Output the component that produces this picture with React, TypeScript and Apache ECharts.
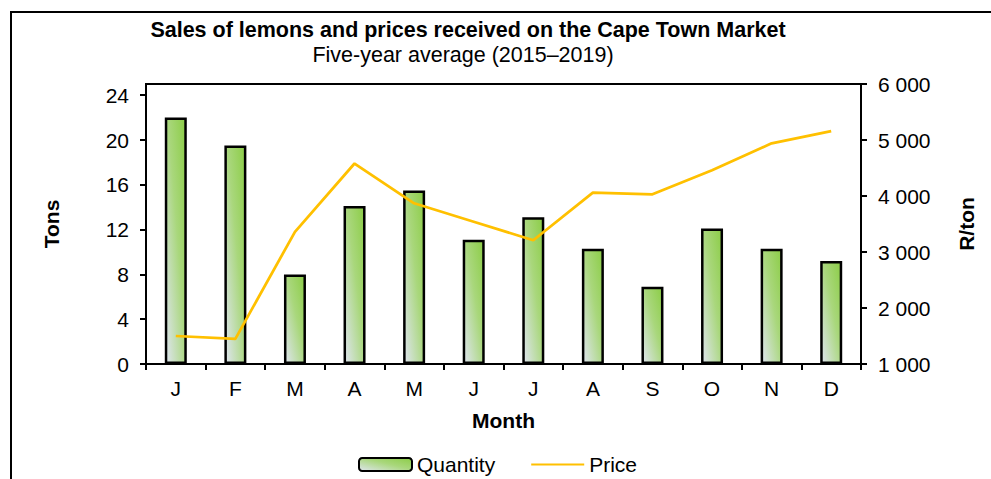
import React, { useEffect, useRef } from "react";
import * as echarts from "echarts";

const months = ["J", "F", "M", "A", "M", "J", "J", "A", "S", "O", "N", "D"];
const quantity = [22, 19.5, 8, 14.1, 15.5, 11.1, 13.1, 10.3, 6.9, 12.1, 10.3, 9.2];
const price = [1500, 1450, 3360, 4580, 3870, 3540, 3210, 4060, 4030, 4460, 4940, 5160];
const tonTicks = [0, 4, 8, 12, 16, 20, 24];

const titleText = "Sales of lemons and prices received on the Cape Town Market";
const subtitleText = "Five-year average (2015\u20132019)";

const FONT = "'Liberation Sans', Arial, sans-serif";
const FS = 21;

export default function App() {
  const ref = useRef<HTMLDivElement>(null);
  useEffect(() => {
    if (!ref.current) return;
    const chart = echarts.init(ref.current, undefined, { renderer: "svg" });
    const barFill = {
      type: "linear",
      x: 0,
      y: 1,
      x2: 1,
      y2: 0,
      colorStops: [
        { offset: 0, color: "#dfe5ef" },
        { offset: 0.55, color: "#a9d77c" },
        { offset: 1, color: "#8ccd47" },
      ],
    };
    const fmt = (v: number) => String(v).replace(/\B(?=(\d{3})+(?!\d))/g, " ");
    chart.setOption({
      animation: false,
      textStyle: { fontFamily: FONT, color: "#000" },
      graphic: [
        {
          type: "rect",
          shape: { x: 11, y: 12, width: 1100, height: 600 },
          style: { fill: "none", stroke: "#000", lineWidth: 2 },
          silent: true,
        },
        {
          type: "text",
          x: 468,
          y: 30,
          style: {
            text: titleText,
            font: `bold 21.5px ${FONT}`,
            fill: "#000",
            textAlign: "center",
            textVerticalAlign: "middle",
          },
        },
        {
          type: "text",
          x: 463,
          y: 55,
          style: {
            text: subtitleText,
            font: `21.5px ${FONT}`,
            fill: "#000",
            textAlign: "center",
            textVerticalAlign: "middle",
          },
        },
      ],
      grid: {
        left: 146,
        right: 130,
        top: 84,
        bottom: 115,
        show: true,
        borderColor: "#000",
        borderWidth: 2,
        containLabel: false,
      },
      legend: {
        left: 358,
        top: 454,
        padding: 0,
        itemWidth: 53,
        itemHeight: 13,
        itemGap: 35,
        textStyle: { fontSize: FS, color: "#000", fontFamily: FONT },
        data: [
          { name: "Quantity" },
          { name: "Price", itemStyle: { opacity: 0 } },
        ],
      },
      xAxis: {
        type: "category",
        data: months,
        name: "Month",
        nameLocation: "middle",
        nameGap: 46,
        nameTextStyle: { fontSize: FS, fontWeight: "bold", color: "#000" },
        axisLine: { lineStyle: { color: "#000", width: 2 } },
        axisTick: { show: true, length: 6, lineStyle: { color: "#000", width: 2 } },
        axisLabel: { fontSize: FS, color: "#000", margin: 14 },
      },
      yAxis: [
        {
          type: "value",
          min: 0,
          max: 25,
          interval: 4,
          name: "Tons",
          nameLocation: "middle",
          nameRotate: 90,
          nameGap: 84,
          nameTextStyle: { fontSize: FS, fontWeight: "bold", color: "#000" },
          axisLine: { show: true, lineStyle: { color: "#000", width: 2 } },
          axisTick: {
            show: true,
            length: 6,
            customValues: tonTicks,
            lineStyle: { color: "#000", width: 2 },
          },
          axisLabel: { fontSize: FS, color: "#000", margin: 17, customValues: tonTicks },
          splitLine: { show: false },
        },
        {
          type: "value",
          min: 1000,
          max: 6000,
          interval: 1000,
          position: "right",
          name: "R/ton",
          nameLocation: "middle",
          nameRotate: 90,
          nameGap: 95,
          nameTextStyle: { fontSize: FS, fontWeight: "bold", color: "#000" },
          axisLine: { show: true, lineStyle: { color: "#000", width: 2 } },
          axisTick: { show: true, length: 6, lineStyle: { color: "#000", width: 2 } },
          axisLabel: { fontSize: FS, color: "#000", margin: 17, formatter: fmt },
          splitLine: { show: false },
        },
      ],
      series: [
        {
          name: "Quantity",
          type: "bar",
          yAxisIndex: 0,
          data: quantity,
          barWidth: 22,
          itemStyle: { color: barFill, borderColor: "#000", borderWidth: 2.5 },
        },
        {
          name: "Price",
          type: "line",
          yAxisIndex: 1,
          data: price,
          symbol: "none",
          showSymbol: false,
          lineStyle: { color: "#ffc000", width: 2.75 },
          itemStyle: { color: "#ffc000" },
        },
      ],
    });
    return () => chart.dispose();
  }, []);
  return (
    <div
      ref={ref}
      style={{ position: "absolute", left: 0, top: 0, width: 991, height: 479, background: "#fff" }}
    />
  );
}
